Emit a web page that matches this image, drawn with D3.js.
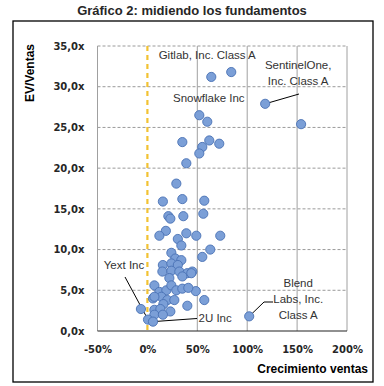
<!DOCTYPE html>
<html>
<head>
<meta charset="utf-8">
<script src="https://cdn.jsdelivr.net/npm/d3@7/dist/d3.min.js"></script>
<style>
  body { margin: 0; background: #fff; }
  svg { display: block; }
</style>
</head>
<body>
<div class="chart"></div>
<script>
// crecimiento de ventas (%) y EV/Ventas (x)
var growth = [64, 84, 52, 60, 118, 154, 35, 62, 72, 55, 52, 39, 29, 15.5, 35, 57, 21, 23, 36, 56,
              18.5, 12, 39, 49, 73, 30.5, 34, 63, 55, 24, 28, 34, 15.5, 24, 30.5, 15, 24, 32, 40, 45,
              22, 35, 48.5, 7, 12, 19, 24, 29, 35, 41, 57, 5.6, 14, 20, 27, 16, 40, -6.5, 7, 13,
              23, 7, 15.5, 0.6, 5.6, 102, 7, 44];
var evSales = [31.2, 31.8, 26.5, 25.7, 27.9, 25.4, 23.2, 23.4, 23.0, 22.6, 21.8, 20.6, 18.1, 15.9, 16.2, 16.0, 14.1, 13.8, 14.1, 14.4,
               12.3, 11.7, 12.0, 11.7, 11.7, 11.3, 10.5, 10.0, 9.1, 9.6, 8.9, 8.7, 8.1, 8.3, 8.1, 7.3, 7.4, 7.3, 7.1, 7.3,
               6.5, 6.7, 4.9, 5.6, 4.8, 5.0, 5.6, 5.0, 5.2, 5.3, 3.8, 4.0, 4.2, 3.8, 3.8, 3.3, 3.1, 2.7, 2.6, 2.7,
               2.4, 2.0, 2.0, 1.4, 1.15, 1.8, 4.2, 7.1];

var xTicks = [-50, 0, 50, 100, 150, 200];
var yTicks = [0, 5, 10, 15, 20, 25, 30, 35];

// empresas señaladas: indice del punto y texto (lineas)
var labelIdx = [1, 2, 4, 63, 64, 65];
var labelText = [["Gitlab, Inc. Class A"], ["Snowflake Inc"], ["SentinelOne,", "Inc. Class A"],
                 ["Yext Inc"], ["2U Inc"], ["Blend", "Labs, Inc.", "Class A"]];

var svg = d3.select(".chart")
   .append("svg")
   .attr("width", 384)
   .attr("height", 386);

// titulo
svg.append("text")
   .attr("x", 192)
   .attr("y", 15)
   .attr("text-anchor", "middle")
   .attr("font-family", "Liberation Sans, Arial, sans-serif")
   .attr("font-weight", "bold")
   .attr("font-size", "13px")
   .attr("fill", "#262626")
   .text("Gráfico 2: midiendo los fundamentos");

// marco
svg.append("rect")
   .attr("x", 13)
   .attr("y", 21)
   .attr("width", 360)
   .attr("height", 361)
   .attr("fill", "none")
   .attr("stroke", "#000")
   .attr("stroke-width", 1.3);

var x = d3.scaleLinear().domain([-50, 200]).range([97.5, 347]);
var y = d3.scaleLinear().domain([0, 35]).range([331, 46]);

// lineas horizontales punteadas
svg.selectAll("line.hgrid")
   .data(yTicks.filter(function(d){ return d > 0; }))
   .enter()
   .append("line")
   .attr("class", "hgrid")
   .attr("x1", x(-50))
   .attr("x2", x(200))
   .attr("y1", function(d){ return y(d); })
   .attr("y2", function(d){ return y(d); })
   .attr("stroke", "#9a9a9a")
   .attr("stroke-width", 1)
   .attr("stroke-dasharray", "3,2");

// lineas verticales
svg.selectAll("line.vgrid")
   .data(xTicks.filter(function(d){ return d != 0; }))
   .enter()
   .append("line")
   .attr("class", "vgrid")
   .attr("x1", function(d){ return x(d); })
   .attr("x2", function(d){ return x(d); })
   .attr("y1", y(35))
   .attr("y2", y(0))
   .attr("stroke", "#a0a0a0")
   .attr("stroke-width", 1);

// linea del 0%
svg.append("line")
   .attr("x1", x(0))
   .attr("x2", x(0))
   .attr("y1", y(35))
   .attr("y2", y(0))
   .attr("stroke", "#f2c232")
   .attr("stroke-width", 2.2)
   .attr("stroke-dasharray", "5,4");

// eje x
svg.append("line")
   .attr("x1", x(-50))
   .attr("x2", x(200))
   .attr("y1", y(0))
   .attr("y2", y(0))
   .attr("stroke", "#222")
   .attr("stroke-width", 1.2);

// etiquetas de los ejes
var yAxis = d3.axisLeft(y).tickValues(yTicks).tickSize(0).tickPadding(13)
   .tickFormat(function(d){ return d3.format(".1f")(d).replace(".", ",") + "x"; });
var gy = svg.append("g").attr("transform", "translate(" + x(-50) + ",0)").call(yAxis);

var xAxis = d3.axisBottom(x).tickValues(xTicks).tickSize(0).tickPadding(15)
   .tickFormat(function(d){ return d + "%"; });
var gx = svg.append("g").attr("transform", "translate(0," + y(0) + ")").call(xAxis);

[gx, gy].forEach(function(g){
  g.select(".domain").remove();
  g.selectAll("text")
   .attr("font-family", "DejaVu Sans, Verdana, sans-serif")
   .attr("font-weight", "bold")
   .attr("font-size", "10px")
   .attr("fill", "#262626");
});

svg.append("text")
   .attr("transform", "translate(34,73) rotate(-90)")
   .attr("text-anchor", "middle")
   .attr("font-family", "Liberation Sans, Arial, sans-serif")
   .attr("font-weight", "bold")
   .attr("font-size", "12px")
   .attr("fill", "#000")
   .text("EV/Ventas");

svg.append("text")
   .attr("x", 368)
   .attr("y", 373)
   .attr("text-anchor", "end")
   .attr("font-family", "Liberation Sans, Arial, sans-serif")
   .attr("font-weight", "bold")
   .attr("font-size", "12px")
   .attr("fill", "#000")
   .text("Crecimiento ventas");

// lineas de las etiquetas
var pt = function(i){ return [x(growth[i]), y(evSales[i])]; };
var leaders = [
  [pt(4), [299, 94]],
  [[125, 277], pt(63)],
  [pt(64), [197, 318.5]],
  [pt(65), [264, 302], [273, 302]]
];
svg.selectAll("polyline.leader")
   .data(leaders)
   .enter()
   .append("polyline")
   .attr("class", "leader")
   .attr("points", function(d){ return d.join(" "); })
   .attr("fill", "none")
   .attr("stroke", "#000")
   .attr("stroke-width", 1);

// puntos
svg.selectAll("circle")
   .data(growth)
   .enter()
   .append("circle")
   .attr("cx", function(d){ return x(d); })
   .attr("cy", function(d, i){ return y(evSales[i]); })
   .attr("r", 4.6)
   .attr("fill", "#7b9fd7")
   .attr("stroke", "#4a72b4")
   .attr("stroke-width", 0.9);

// textos de las etiquetas (desplazamiento respecto al punto)
var labelPos = [[-24, -13], [9.5, -13.5], [33, -34.5], [-24, -51], [45.5, 0], [49, -29.5]];
var labelAnchor = ["middle", "middle", "middle", "middle", "start", "middle"];

labelIdx.forEach(function(idx, k){
  var p = pt(idx);
  var t = svg.append("text")
     .attr("font-family", "Liberation Sans, Arial, sans-serif")
     .attr("font-size", "11.5px")
     .attr("fill", "#333")
     .attr("text-anchor", labelAnchor[k]);
  labelText[k].forEach(function(line, j){
    t.append("tspan")
     .attr("x", p[0] + labelPos[k][0])
     .attr("y", p[1] + labelPos[k][1] + j*16)
     .text(line);
  });
});
</script>
</body>
</html>
